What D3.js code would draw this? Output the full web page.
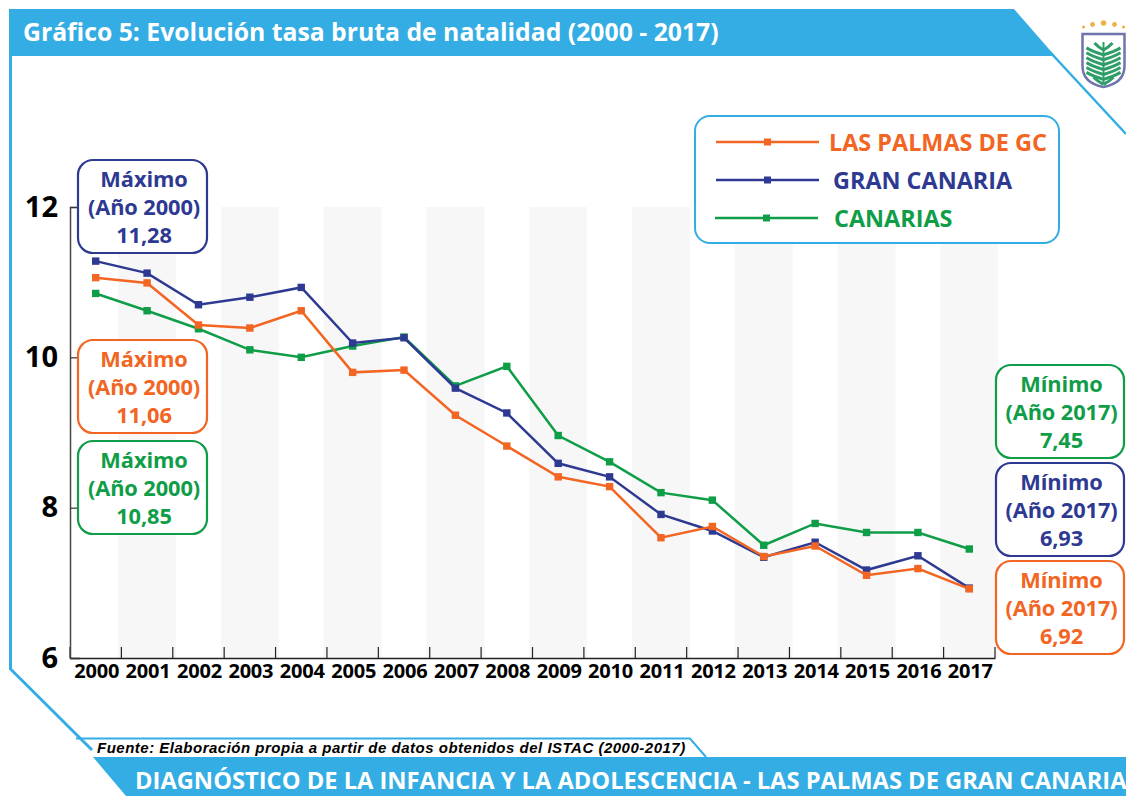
<!DOCTYPE html>
<html><head><meta charset="utf-8">
<style>html,body{margin:0;padding:0;background:#fff;overflow:hidden}svg{display:block}text{font-family:"Open Sans",sans-serif;font-weight:700}</style>
<script src="https://cdn.jsdelivr.net/npm/d3@7/dist/d3.min.js"></script></head><body>
<script>
const years=[2000,2001,2002,2003,2004,2005,2006,2007,2008,2009,2010,2011,2012,2013,2014,2015,2016,2017];
const lasPalmas=[11.06,10.99,10.43,10.39,10.62,9.80,9.83,9.23,8.82,8.41,8.28,7.60,7.75,7.35,7.49,7.10,7.19,6.92];
const granCanaria=[11.28,11.12,10.70,10.80,10.93,10.19,10.26,9.59,9.26,8.59,8.41,7.91,7.69,7.34,7.54,7.17,7.36,6.93];
const canarias=[10.85,10.62,10.38,10.10,10.00,10.15,10.27,9.62,9.88,8.96,8.61,8.20,8.10,7.50,7.79,7.67,7.67,7.45];
const yTicks=[6,8,10,12];
const seriesNames=["LAS PALMAS DE GC","GRAN CANARIA","CANARIAS"];
const calloutLines=[
 ["Máximo","(Año 2000)","11,28"],["Máximo","(Año 2000)","11,06"],["Máximo","(Año 2000)","10,85"],
 ["Mínimo","(Año 2017)","7,45"],["Mínimo","(Año 2017)","6,93"],["Mínimo","(Año 2017)","6,92"]];
const titleText="Gráfico 5: Evolución tasa bruta de natalidad (2000 - 2017)";
const sourceText="Fuente: Elaboración propia a partir de datos obtenidos del ISTAC (2000-2017)";
const footerText="DIAGNÓSTICO DE LA INFANCIA Y LA ADOLESCENCIA - LAS PALMAS DE GRAN CANARIA";

const ORANGE="#f26522",NAVY="#2e3a92",GREEN="#0f9d48",SKY="#33ade3";
const W=1126,H=796;
const svg=d3.select("body").append("svg").attr("width",W).attr("height",H);
const line=d3.line();

// frame
svg.append("path").attr("d",line([[10.5,9],[10.5,669],[92,750]])).attr("fill","none").attr("stroke",SKY).attr("stroke-width",3);
svg.append("path").attr("d",line([[1050,52],[1126,134]])).attr("fill","none").attr("stroke",SKY).attr("stroke-width",2.5);
svg.append("path").attr("d",line([[9,9],[1014,9],[1055,56],[9,56]])+"Z").attr("fill",SKY);
svg.append("text").attr("x",23).attr("y",41).attr("font-size",24.75).attr("fill","#fff").text(titleText);
svg.append("path").attr("d",line([[76,738.5],[690,738.5],[706,757]])).attr("fill","none").attr("stroke",SKY).attr("stroke-width",2);
svg.append("path").attr("d",line([[93,757],[1126,757],[1126,796],[126,796]])+"Z").attr("fill",SKY);
svg.append("text").attr("x",135).attr("y",789).attr("font-size",23.7).attr("fill","#fff").text(footerText);
svg.append("text").attr("x",97).attr("y",753).attr("font-size",15).attr("font-style","italic")
  .style("font-family","'Liberation Sans',sans-serif").style("letter-spacing","0.5px").attr("fill","#000").text(sourceText);

// scales
const x=d3.scaleBand().domain(years).range([70,995]);
const y=d3.scaleLinear().domain([6,12]).range([658,207]);
const cx=d=>x(d)+x.bandwidth()/2;

// stripes
svg.append("g").selectAll("rect").data(years.filter((d,i)=>i%2===1)).join("rect")
 .attr("x",d=>cx(d)-29).attr("width",58).attr("y",y(12)).attr("height",y(6)-y(12)).attr("fill","#f7f7f7");

// axes
const gx=svg.append("g").attr("transform",`translate(0,${y(6)})`);
gx.call(d3.axisBottom(x).tickSize(0).tickPadding(6));
gx.select(".domain").attr("stroke","#222").attr("stroke-width",1.5);
gx.selectAll("text").attr("font-size",20).attr("dx",1).attr("fill","#000").style("letter-spacing","-0.2px");
gx.selectAll("line.sep").data(d3.range(0,19)).join("line").attr("class","sep")
 .attr("x1",i=>70+i*x.step()).attr("x2",i=>70+i*x.step()).attr("y1",0).attr("y2",-11).attr("stroke","#222").attr("stroke-width",1.2);
const gy=svg.append("g").attr("transform","translate(70,0)");
gy.call(d3.axisLeft(y).tickValues(yTicks).tickFormat(d3.format("d")).tickSize(-10).tickPadding(12));
gy.select(".domain").attr("stroke","#444").attr("stroke-width",1.5);
gy.selectAll("line").attr("stroke","#333").attr("stroke-width",1.2);
gy.selectAll("text").attr("font-size",29).attr("fill","#000");

// series
const seriesData=[[lasPalmas,ORANGE],[granCanaria,NAVY],[canarias,GREEN]];
const lg=d3.line().x((d,i)=>cx(years[i])).y(d=>y(d));
[seriesData[2],seriesData[1],seriesData[0]].forEach(([vals,col])=>{
 const g=svg.append("g");
 g.append("path").attr("d",lg(vals)).attr("fill","none").attr("stroke",col).attr("stroke-width",2.5);
 g.selectAll("rect").data(vals).join("rect")
  .attr("x",(d,i)=>cx(years[i])-3.7).attr("y",d=>y(d)-3.7).attr("width",7.4).attr("height",7.4).attr("fill",col);
});

// callouts
const boxes=[[78,160,129,93,NAVY],[78,340,129,93,ORANGE],[78,441,129,93,GREEN],
             [996,365,128,93,GREEN],[996,463,128,93,NAVY],[996,561,128,93,ORANGE]];
calloutLines.forEach((ls,i)=>{
 const [bx,by,bw,bh,c]=boxes[i];
 const g=svg.append("g");
 g.append("rect").attr("x",bx).attr("y",by).attr("width",bw).attr("height",bh).attr("rx",15)
  .attr("fill","#fff").attr("stroke",c).attr("stroke-width",2.2);
 ls.forEach((t,j)=>g.append("text").attr("x",bx+bw/2+1.5).attr("y",by+27+j*28).attr("text-anchor","middle")
  .attr("font-size",21.8).style("letter-spacing","-0.1px").attr("fill",c).text(t));
});

// legend
svg.append("rect").attr("x",695).attr("y",116).attr("width",364).attr("height",127).attr("rx",15)
 .attr("fill","#fff").attr("stroke",SKY).attr("stroke-width",2);
const legendCols=[ORANGE,NAVY,GREEN],legendY=[142,180,218],legendX=[829,833,834],legendLine=[716,716,715];
seriesNames.forEach((n,i)=>{
 const g=svg.append("g");
 g.append("line").attr("x1",legendLine[i]).attr("x2",legendLine[i]+103).attr("y1",legendY[i]).attr("y2",legendY[i])
  .attr("stroke",legendCols[i]).attr("stroke-width",2.4);
 g.append("rect").attr("x",legendLine[i]+48).attr("y",legendY[i]-3.5).attr("width",7).attr("height",7).attr("fill",legendCols[i]);
 g.append("text").attr("x",legendX[i]).attr("y",legendY[i]+9).attr("font-size",23.4).attr("fill",legendCols[i]).text(n);
});

// crest
const crest=svg.append("g").attr("transform","translate(1082.5,34)");
crest.append("path").attr("d","M0,0 H42 V32 Q42,49 21,53 Q0,49 0,32 Z").attr("fill","#fff").attr("stroke","#6f74ad").attr("stroke-width",2.5);
crest.append("path").attr("d","M21,8 V50").attr("stroke","#2e9e68").attr("stroke-width",2);
d3.range(0,8).forEach(i=>{
 const yy=9+i*4.9, w=i<1?9:i>6?10:17;
 crest.append("path").attr("d",`M21,${yy+7} Q${21-w*.6},${yy+4} ${21-w},${yy} M21,${yy+7} Q${21+w*.6},${yy+4} ${21+w},${yy}`)
  .attr("fill","none").attr("stroke","#2e9e68").attr("stroke-width",3);
});
[[1,-7,1.6],[10,-9.5,2.4],[21,-11,2.8],[32,-9.5,2.4],[41,-7,1.6]].forEach(([a,b,r])=>crest.append("circle").attr("cx",a).attr("cy",b).attr("r",r).attr("fill","#eeb04a"));
</script></body></html>
